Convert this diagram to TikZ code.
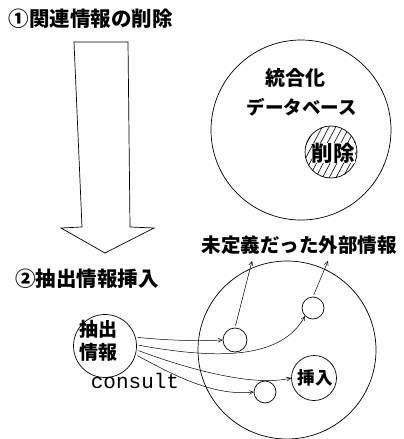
\documentclass[tikz,border=0pt]{standalone}
\usepackage{fontspec}
\newfontfamily\jp{Noto Sans CJK JP}
\newfontfamily\mono{Liberation Mono}
\usetikzlibrary{arrows.meta,patterns.meta}
\newcommand{\jpsz}[1]{\jp\fontsize{#1}{#1}\selectfont\bfseries}
\begin{document}
\begin{tikzpicture}[x=1pt,y=-1pt,
  lbl/.style={font=\jpsz{20}, inner sep=0pt},
  ring/.style={draw, line width=0.7pt, circle, inner sep=0pt},
  conn/.style={line width=0.5pt, shorten <=2pt, -{Straight Barb[length=4pt,width=4pt]}}]
\useasboundingbox (0,0) rectangle (404,439);
% big arrow
\draw[line width=0.7pt] (74,42) -- (128,42) -- (130,227) -- (154,228) -- (105,253) -- (61,228) -- (82,227) -- cycle;
% labels
\node[lbl, font=\jpsz{20.5}] (t1) at (91,19) {①関連情報の削除};
\node[lbl, font=\jpsz{20.5}] (t2) at (87,279) {②抽出情報挿入};
\node[lbl, font=\jpsz{19.5}] (t3) at (299,245) {未定義だった外部情報};
% top database
\node[ring, minimum size=180pt] (db) at (301,130) {};
\node[lbl] (db1) at (295,78) {統合化};
\node[lbl, font=\jpsz{18.5}] (db2) at (302,107) {データベース};
\node[ring, minimum size=52pt, pattern={Lines[angle=62,distance=6pt,line width=0.6pt]}] (del) at (331,152) {};
\node[lbl, font=\jpsz{21.5}, fill=white, inner sep=0pt] (delt) at (333,153) {削除};
% bottom database
\node[ring, minimum size=178pt] (db3) at (287,350) {};
\node[ring, minimum size=24pt] (c1) at (235,340) {};
\node[ring, minimum size=22pt] (c2) at (313,308) {};
\node[ring, minimum size=22pt] (c3) at (265,392) {};
\node[ring, minimum size=45pt] (ins) at (314,378) {};
\node[lbl, font=\jpsz{17.5}] (inst) at (315,378) {挿入};
% extracted info
\node[ring, minimum size=63pt] (ex) at (105,346) {};
\node[lbl, align=center, font=\jp\fontsize{19}{23}\selectfont\bfseries] (ext) at (98,341) {抽出\\情報};
\node[font=\mono\fontsize{21}{22}\selectfont, inner sep=0pt] (cons) at (135,381) {consult};
% connectors
\draw[conn] (ex.16) .. controls (175,341) and (200,341) .. (c1.west);
\draw[conn] (ex.2) .. controls (210,358) and (280,362) .. (c2.south west);
\draw[conn] (ex.-7) .. controls (190,370) and (255,387) .. (ins.west);
\draw[conn] (ex.-16) .. controls (165,370) and (210,397) .. (c3.west);
\coordinate (u1) at (252,261);
\coordinate (u2) at (328,261);
\draw[conn] (c1.north) -- (u1);
\draw[conn] (c2.north) -- (u2);
\end{tikzpicture}
\end{document}
